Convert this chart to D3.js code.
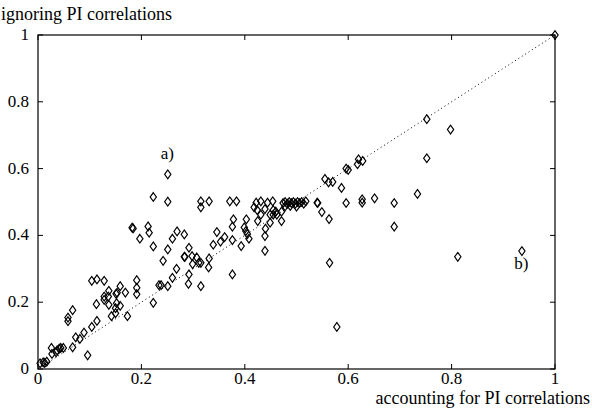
<!DOCTYPE html>
<html><head><meta charset="utf-8">
<script src="https://cdn.jsdelivr.net/npm/d3@7"></script>
<style>body{margin:0;background:#fff}svg{display:block}</style>
</head><body><svg id="c" width="592" height="408" font-family="'Liberation Serif', 'Times New Roman', 'DejaVu Serif', serif"></svg>
<script>
const xTicks = [0, 0.2, 0.4, 0.6, 0.8, 1];
const yTicks = [0, 0.2, 0.4, 0.6, 0.8, 1];
const xLabel = "accounting for PI correlations";
const yLabel = "ignoring PI correlations";
const accounting = [
0.251,0.223,0.251,0.182,0.184,0.213,0.215,0.197,0.223,0.269,0.283,0.260,0.251,0.292,0.283,0.242,0.268,0.292,0.260,0.291,0.234,0.238,0.251,0.223,
0.104,0.114,0.128,0.191,0.191,0.191,0.137,0.159,0.169,0.151,0.153,0.128,0.128,0.136,0.137,0.113,0.152,0.150,0.159,0.142,0.150,0.173,0.114,0.104,0.089,0.081,0.073,0.067,0.067,0.058,0.058,0.096,
0.026,0.027,0.035,0.037,0.041,0.044,0.049,0.004,0.010,0.013,0.017,
0.555,0.562,0.315,0.331,0.315,0.371,0.384,0.422,0.431,0.444,0.454,0.418,0.424,
0.474,0.478,0.482,0.486,0.490,0.494,0.498,0.502,0.506,0.510,0.514,0.478,0.488,0.500,
0.540,0.549,0.563,0.439,0.455,0.460,0.471,0.449,0.455,0.462,0.431,0.471,0.425,0.449,0.440,0.439,0.439,
0.403,0.378,0.376,0.399,0.402,0.405,0.408,0.393,0.376,0.346,0.361,0.353,0.339,0.330,0.331,
0.284,0.298,0.307,0.315,0.299,0.311,0.315,0.376,
0.752,0.798,0.752,0.620,0.628,0.618,0.596,0.600,0.570,0.587,0.734,0.651,0.627,0.627,0.596,0.689,0.541,0.518,0.689,0.812,0.564,0.578,0.936,1.0
];
const ignoring = [
0.583,0.515,0.501,0.423,0.421,0.427,0.408,0.390,0.367,0.412,0.403,0.390,0.358,0.363,0.336,0.324,0.300,0.283,0.273,0.255,0.251,0.251,0.248,0.198,
0.264,0.268,0.264,0.266,0.243,0.224,0.234,0.248,0.229,0.225,0.228,0.217,0.207,0.217,0.192,0.194,0.197,0.182,0.189,0.158,0.167,0.158,0.144,0.126,0.109,0.090,0.095,0.065,0.176,0.154,0.143,0.041,
0.063,0.045,0.050,0.056,0.061,0.063,0.063,0.017,0.020,0.018,0.022,
0.569,0.559,0.502,0.502,0.484,0.502,0.502,0.498,0.502,0.498,0.502,0.484,0.476,
0.497,0.500,0.495,0.500,0.497,0.500,0.495,0.500,0.497,0.500,0.495,0.487,0.488,0.486,
0.498,0.470,0.449,0.479,0.476,0.471,0.471,0.462,0.462,0.462,0.462,0.443,0.443,0.438,0.420,0.398,0.354,
0.448,0.448,0.426,0.424,0.413,0.404,0.390,0.368,0.386,0.410,0.395,0.381,0.372,0.304,0.331,
0.336,0.338,0.334,0.318,0.314,0.318,0.248,0.283,
0.748,0.717,0.631,0.628,0.623,0.613,0.600,0.596,0.560,0.542,0.524,0.511,0.508,0.498,0.497,0.497,0.497,0.502,0.426,0.336,0.318,0.126,0.353,1.0
];
const annotations = [{label:"a)", x:0.25, y:0.63}, {label:"b)", x:0.935, y:0.30}];

const svg = d3.select("#c");
const L = 38, R = 555, T = 35, B = 369;
const x = d3.scaleLinear().domain([0,1]).range([L,R]);
const y = d3.scaleLinear().domain([0,1]).range([B,T]);
const FF = "'Liberation Serif', 'Times New Roman', 'DejaVu Serif', serif";

svg.append("rect").attr("x",L).attr("y",T).attr("width",R-L).attr("height",B-T)
  .attr("fill","none").attr("stroke","#000").attr("stroke-width",1.2);

const tl = 5;
const g = svg.append("g").attr("stroke","#000").attr("stroke-width",1);
xTicks.forEach(t=>{
  g.append("line").attr("x1",x(t)).attr("x2",x(t)).attr("y1",B).attr("y2",B-tl);
  g.append("line").attr("x1",x(t)).attr("x2",x(t)).attr("y1",T).attr("y2",T+tl);
});
yTicks.forEach(t=>{
  g.append("line").attr("y1",y(t)).attr("y2",y(t)).attr("x1",L).attr("x2",L+tl);
  g.append("line").attr("y1",y(t)).attr("y2",y(t)).attr("x1",R).attr("x2",R-tl);
});

const fmt = d => (d===0||d===1) ? String(d) : d.toFixed(1);
svg.selectAll(".xl").data(xTicks).enter().append("text")
  .attr("x",d=>x(d)).attr("y",B+15).attr("text-anchor","middle").attr("font-size",17)
  .style("font-family",FF).text(fmt);
svg.selectAll(".yl").data(yTicks).enter().append("text")
  .attr("x",L-9).attr("y",d=>y(d)+5).attr("text-anchor","end").attr("font-size",17)
  .style("font-family",FF).text(fmt);

svg.append("text").attr("x",590).attr("y",404).attr("text-anchor","end").attr("font-size",18)
  .style("font-family",FF).text(xLabel);
svg.append("text").attr("x",1).attr("y",20).attr("font-size",18)
  .style("font-family",FF).text(yLabel);

svg.append("line").attr("x1",x(0)).attr("y1",y(0)).attr("x2",x(1)).attr("y2",y(1))
  .attr("stroke","#000").attr("stroke-width",1).attr("stroke-dasharray","1,3");

const pts = accounting.map((a,i)=>({a, b: ignoring[i]}));
const sym = d3.symbol().type(d3.symbolDiamond).size(22);
svg.selectAll(".p").data(pts).enter().append("path")
  .attr("d", sym).attr("transform", d=>`translate(${x(d.a)},${y(d.b)}) scale(1.25,1)`)
  .attr("fill","none").attr("stroke","#000").attr("stroke-width",1);

svg.selectAll(".ann").data(annotations).enter().append("text")
  .attr("x",d=>x(d.x)).attr("y",d=>y(d.y)).attr("text-anchor","middle").attr("font-size",17)
  .style("font-family",FF).text(d=>d.label);
</script></body></html>
